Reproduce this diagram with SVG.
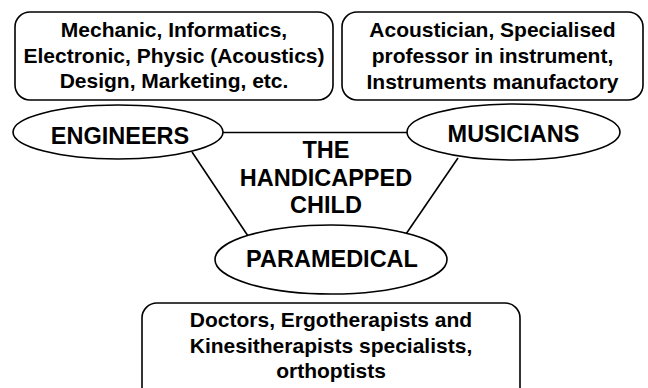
<svg xmlns="http://www.w3.org/2000/svg" width="648" height="388" viewBox="0 0 648 388">
<style>
.box{fill:#fff;stroke:#000;stroke-width:1.6}
.ell{fill:#fff;stroke:#000;stroke-width:1.6}
.con{stroke:#000;stroke-width:1.6;fill:none}
text{font-family:"Liberation Sans",Arial,sans-serif;font-weight:bold;fill:#000;text-anchor:middle}
.bt{font-size:21px}
.lt{font-size:23.5px}
</style>
<rect width="648" height="388" fill="#fff"/>
<g id="connectors">
<line class="con" x1="223" y1="132.5" x2="407" y2="132.5"/>
<line class="con" x1="192" y1="152" x2="248" y2="236"/>
<line class="con" x1="458" y1="158" x2="406" y2="234"/>
</g>
<g id="box-engineers">
<rect class="box" x="15" y="12" width="318" height="88" rx="15"/>
<text class="bt" x="174" y="36.5">Mechanic, Informatics,</text>
<text class="bt" x="174" y="62.5">Electronic, Physic (Acoustics)</text>
<text class="bt" x="174" y="88">Design, Marketing, etc.</text>
</g>
<g id="box-musicians">
<rect class="box" x="342" y="12" width="301" height="88" rx="15"/>
<text class="bt" x="492.5" y="36.5">Acoustician, Specialised</text>
<text class="bt" x="492.5" y="62.5">professor in instrument,</text>
<text class="bt" x="492.5" y="88.5">Instruments manufactory</text>
</g>
<g id="box-paramedical">
<rect class="box" x="142" y="303" width="378" height="110" rx="15"/>
<text class="bt" x="331" y="327">Doctors, Ergotherapists and</text>
<text class="bt" x="331" y="353">Kinesitherapists specialists,</text>
<text class="bt" x="331" y="378">orthoptists</text>
</g>
<g id="engineers">
<ellipse class="ell" cx="118" cy="132" rx="105" ry="27"/>
<text class="lt" x="120" y="144">ENGINEERS</text>
</g>
<g id="musicians">
<ellipse class="ell" cx="513.5" cy="132" rx="106.5" ry="28"/>
<text class="lt" x="513.5" y="142">MUSICIANS</text>
</g>
<g id="paramedical">
<ellipse class="ell" cx="331" cy="259.5" rx="116" ry="34.5"/>
<text class="lt" x="332" y="267">PARAMEDICAL</text>
</g>
<g id="child">
<text class="lt" x="326" y="158">THE</text>
<text class="lt" x="326" y="186">HANDICAPPED</text>
<text class="lt" x="326" y="213">CHILD</text>
</g>
</svg>
